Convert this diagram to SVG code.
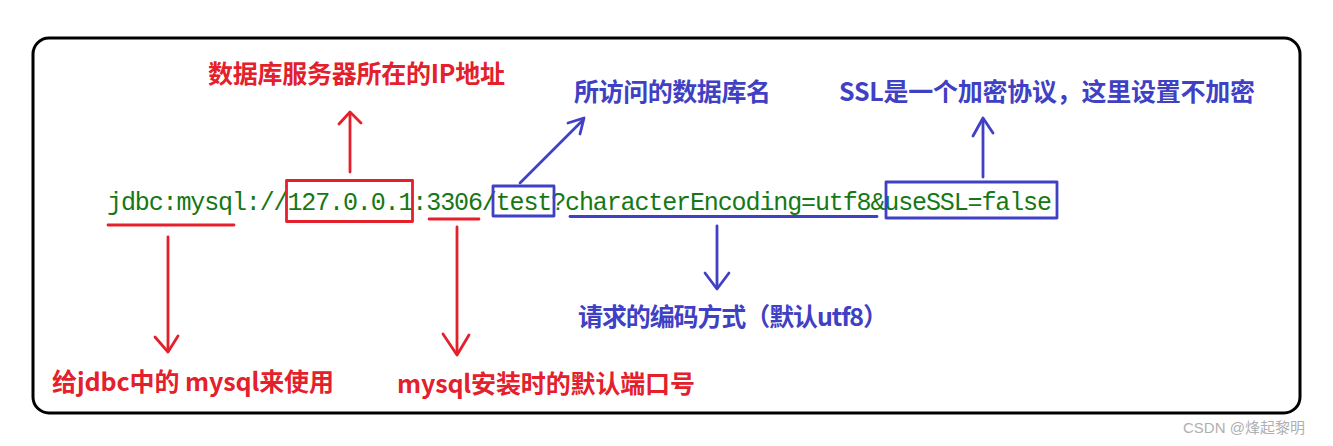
<svg xmlns="http://www.w3.org/2000/svg" width="1333" height="446" viewBox="0 0 1333 446">
<style>
.frame{fill:#fff;stroke:#000;stroke-width:3}
.code{font-family:"Liberation Mono","Noto Sans CJK SC",monospace;font-size:25px;fill:#157815}
.lbl{font-family:"Noto Sans CJK SC","Noto Sans CJK TC",sans-serif;font-size:25px;font-weight:bold}
.red{fill:#e3202b}
.blue{fill:#4040c4}
.rs{fill:none;stroke:#e3202b;stroke-width:2.8;stroke-linecap:round;stroke-linejoin:round}
.bs{fill:none;stroke:#4040c4;stroke-width:2.8;stroke-linecap:round;stroke-linejoin:round}
.wm{font-family:"Liberation Sans","Noto Sans CJK SC",sans-serif;font-size:15px;fill:#b0b0b0}
</style>
<rect width="1333" height="446" fill="#fff"/>
<g id="frame"><rect class="frame" x="33" y="38" width="1267" height="375" rx="16"/></g>
<g id="code"><text class="code" x="107" y="210" textLength="945" lengthAdjust="spacing">jdbc:mysql://127.0.0.1:3306/test?characterEncoding=utf8&amp;useSSL=false</text></g>
<g id="highlights">
<rect class="rs" x="286.5" y="180.5" width="126" height="41"/>
<line class="rs" x1="108" y1="225" x2="234" y2="225"/>
<line class="rs" x1="429" y1="219" x2="479" y2="219"/>
<rect class="bs" x="493" y="186" width="61" height="30"/>
<line class="bs" x1="570" y1="216.5" x2="877" y2="216.5"/>
<rect class="bs" x="886" y="182" width="171" height="36"/>
</g>
<g id="label-ip"><text class="lbl red" x="208" y="83" textLength="297" lengthAdjust="spacing">数据库服务器所在的IP地址</text></g>
<g id="label-dbname"><text class="lbl blue" x="574" y="101" textLength="197" lengthAdjust="spacing">所访问的数据库名</text></g>
<g id="label-ssl"><text class="lbl blue" x="839" y="101" textLength="416" lengthAdjust="spacing">SSL是一个加密协议，这里设置不加密</text></g>
<g id="label-jdbc"><text class="lbl red" x="52" y="391" textLength="282" lengthAdjust="spacing">给jdbc中的 mysql来使用</text></g>
<g id="label-port"><text class="lbl red" x="397" y="393" textLength="298" lengthAdjust="spacing">mysql安装时的默认端口号</text></g>
<g id="label-encoding"><text class="lbl blue" x="578" y="326" textLength="310" lengthAdjust="spacing">请求的编码方式（默认utf8）</text></g>
<g id="connectors">
<line class="rs" x1="350" y1="172" x2="350" y2="113"/>
<polyline class="rs" points="339,124 350,112 361,123"/>
<line class="rs" x1="168" y1="237" x2="168" y2="351"/>
<polyline class="rs" points="155,337 168,352 178,336"/>
<line class="rs" x1="457" y1="227" x2="457" y2="354"/>
<polyline class="rs" points="443,334 457,355 469,335"/>
<line class="bs" x1="520" y1="183" x2="583" y2="120"/>
<polyline class="bs" points="568,123 584,118 580,134"/>
<line class="bs" x1="717" y1="226" x2="717" y2="288"/>
<polyline class="bs" points="705,273 717,289 729,273"/>
<line class="bs" x1="983" y1="177" x2="983" y2="119"/>
<polyline class="bs" points="973,136 983,118 993,133"/>
</g>
<g id="watermark"><text class="wm" x="1183" y="433">CSDN @烽起黎明</text></g>
</svg>
